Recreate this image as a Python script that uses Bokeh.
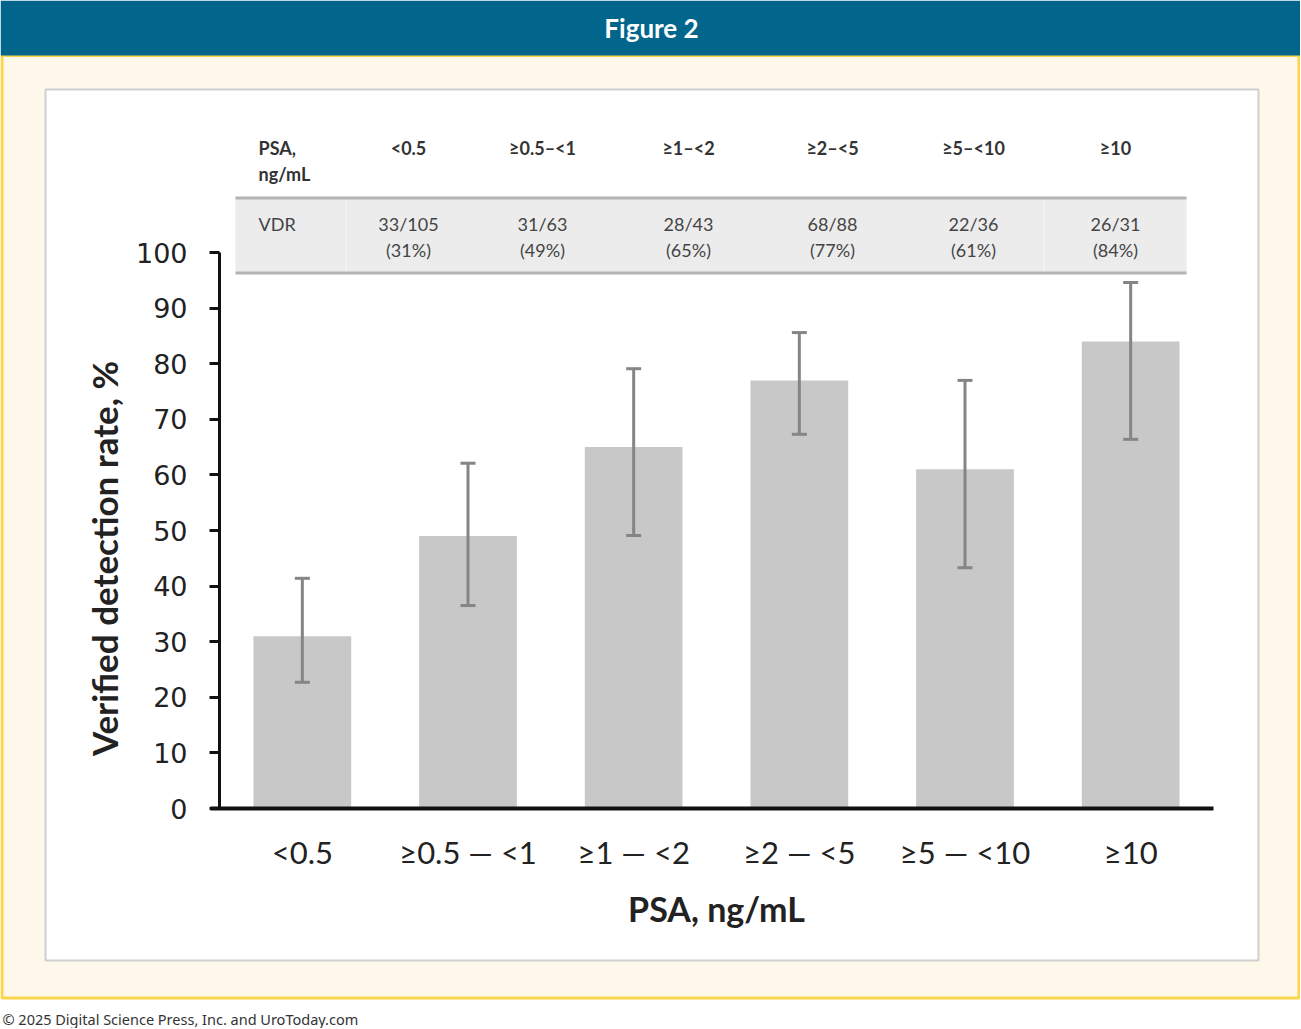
from math import pi
from bokeh.plotting import figure
from bokeh.models import (BoxAnnotation, Label, Whisker, TeeHead, ColumnDataSource,
                          FixedTicker, Range1d)
from bokeh.embed import file_html
from bokeh.resources import INLINE

# ---------------- data ----------------
categories = ["<0.5", "≥0.5 — <1", "≥1 — <2", "≥2 — <5", "≥5 — <10", "≥10"]
vdr_pct = [31, 49, 65, 77, 61, 84]
ci_lower = [22.7, 36.5, 49.1, 67.3, 43.3, 66.4]
ci_upper = [41.4, 62.1, 79.1, 85.6, 77.0, 94.6]
table_headers = ["<0.5", "≥0.5–<1", "≥1–<2", "≥2–<5", "≥5–<10", "≥10"]
vdr_counts = ["33/105", "31/63", "28/43", "68/88", "22/36", "26/31"]
vdr_pct_text = ["(31%)", "(49%)", "(65%)", "(77%)", "(61%)", "(84%)"]
y_ticks = [0, 10, 20, 30, 40, 50, 60, 70, 80, 90, 100]

# ---------------- layout constants (canvas px) ----------------
W, H = 1300, 1028
AX_L, AX_R, AX_T, AX_B = 219, 1213, 252, 808   # data area on the canvas
n = len(categories)
PX = (AX_R - AX_L) / n          # px per category
PY = (AX_B - AX_T) / 100.0      # px per percent

xpos = [i + 0.5 for i in range(n)]

p = figure(width=W, height=H, title=None,
           x_range=Range1d(-AX_L / PX, (W - AX_L) / PX),
           y_range=Range1d(-(H - AX_B) / PY, 100 + AX_T / PY),
           output_backend="svg", toolbar_location=None, min_border=0,
           min_border_left=0, min_border_right=0, min_border_top=0, min_border_bottom=0)
p.outline_line_color = None
p.background_fill_color = "white"
p.border_fill_color = "white"
p.xgrid.grid_line_color = None
p.ygrid.grid_line_color = None

def box(l, r, t, b, fill, line=None, lw=0):
    p.add_layout(BoxAnnotation(left=l, right=r, top=t, bottom=b,
                               left_units="canvas", right_units="canvas",
                               top_units="canvas", bottom_units="canvas",
                               fill_color=fill, fill_alpha=1.0,
                               line_color=line, line_alpha=1.0, line_width=lw,
                               level="underlay"))

# background panels
box(1.5, 1298.5, 55, 997.5, "#fef8ea", "#fdd54a", 3)
box(0, W, 0, 55, "#02658b")
box(45, 1258, 89, 960, "white", "#cfcfcf", 2)
# table
box(235, 1186, 198, 272, "#ececec")
box(345, 346, 199, 271, "#f6f6f6")
box(1043, 1044, 199, 271, "#f6f6f6")
box(235, 1186, 196, 199, "#b4b4b4")
box(235, 1186, 271, 274, "#b4b4b4")

# bars + error bars
src = ColumnDataSource(dict(x=xpos, top=vdr_pct, lo=ci_lower, hi=ci_upper))
p.vbar(x="x", top="top", width=0.59, source=src, fill_color="#c8c8c8", line_color=None)
p.add_layout(Whisker(source=src, base="x", upper="hi", lower="lo", line_color="#858585",
                     line_width=3, level="annotation",
                     upper_head=TeeHead(size=15, line_color="#858585", line_width=3),
                     lower_head=TeeHead(size=15, line_color="#858585", line_width=3)))

# axes (drawn at fixed data locations)
ya = p.yaxis[0]
ya.fixed_location = 0
ya.bounds = (0, 100)
ya.ticker = FixedTicker(ticks=y_ticks)
ya.axis_line_width = 3
ya.axis_line_color = "#111111"
ya.major_tick_line_width = 3
ya.major_tick_line_color = "#111111"
ya.major_tick_out = 10
ya.major_tick_in = 0
ya.minor_tick_line_color = None
ya.major_label_standoff = 22
ya.major_label_text_font = "DejaVu Sans"
ya.major_label_text_font_size = "27px"
ya.major_label_text_color = "#222222"

xa = p.xaxis[0]
xa.fixed_location = 0
xa.bounds = (-9 / PX, n)
xa.ticker = FixedTicker(ticks=xpos)
xa.major_label_overrides = {x: c for x, c in zip(xpos, categories)}
xa.axis_line_width = 4
xa.axis_line_color = "#111111"
xa.major_tick_line_color = None
xa.minor_tick_line_color = None
xa.major_label_standoff = 18
xa.major_label_text_font = "Lato"
xa.major_label_text_font_size = "31px"
xa.major_label_text_color = "#222222"

def lab(x, y, text, size, color="#333333", style="normal", font="Lato", align="center", angle=0):
    p.add_layout(Label(x=x, y=y, x_units="canvas", y_units="canvas", text=text,
                       text_font=font, text_font_size=f"{size}px", text_font_style=style,
                       text_color=color, text_align=align, text_baseline="middle", angle=angle))

# axis titles
lab(103, 558, "Verified detection rate, %", 35, "#222222", "bold", angle=pi / 2)
lab(716, 908, "PSA, ng/mL", 34, "#222222", "bold")

# banner + footer
lab(651, 27, "Figure 2", 26, "white", "bold")
lab(2, 1018, "© 2025 Digital Science Press, Inc. and UroToday.com", 14.5, "#333333",
    font="Noto Sans", align="left")

# table text
col_x = [408, 542, 688, 832, 973, 1115]
lab(258, 147, "PSA,", 18, "#333333", "bold", align="left")
lab(258, 173, "ng/mL", 18, "#333333", "bold", align="left")
lab(258, 223, "VDR", 18, "#444444", align="left")
for cx, h, c, pc in zip(col_x, table_headers, vdr_counts, vdr_pct_text):
    lab(cx, 147, h, 18, "#333333", "bold")
    lab(cx, 223, c, 18, "#444444")
    lab(cx, 249, pc, 18, "#444444")

open("out.html", "w").write(file_html(p, INLINE))
